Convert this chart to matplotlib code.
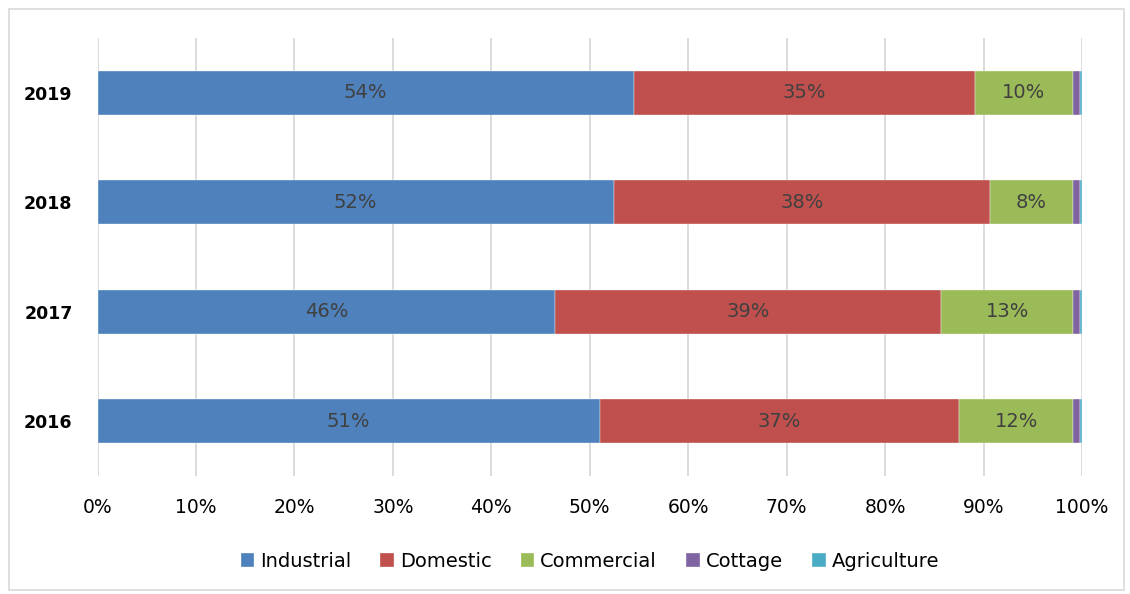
import numpy as np
import matplotlib
matplotlib.use("Agg")
import matplotlib.pyplot as plt
from matplotlib.patches import Rectangle

# consumption share by sector, per year (percent)
years = ["2016", "2017", "2018", "2019"]
industrial = [51.0, 46.49, 52.45, 54.49]
domestic = [36.55, 39.2, 38.2, 34.6]
commercial = [11.55, 13.41, 8.45, 10.01]
cottage = [0.7, 0.7, 0.7, 0.7]
agriculture = [0.2, 0.2, 0.2, 0.2]

sectors = ["Industrial", "Domestic", "Commercial", "Cottage", "Agriculture"]
colors = ["#4F81BD", "#C0504D", "#9BBB59", "#8064A2", "#4BACC6"]
labelled = ["Industrial", "Domestic", "Commercial"]

plt.rcParams['font.family'] = ['DejaVu Sans']

fig = plt.figure(figsize=(11.3, 5.94), dpi=100)
ax = fig.add_axes([0.0863, 0.1987, 0.8712, 0.7373])

# light frame round the whole chart
fig.patches.append(Rectangle((0.008, 0.007), 0.987, 0.978, transform=fig.transFigure,
                             fill=False, edgecolor="#d9d9d9", linewidth=1.2))

y = np.arange(len(years))
left = np.zeros(len(years))
for name, vals, col in zip(sectors, [industrial, domestic, commercial, cottage, agriculture], colors):
    vals = np.array(vals)
    ax.barh(y, vals, left=left, height=0.4, color=col, edgecolor="white",
            linewidth=0.25, label=name, zorder=3)
    if name in labelled:
        for yi, l, v in zip(y, left, vals):
            ax.text(l + v / 2, yi, f"{v:.0f}%", ha="center", va="center",
                    fontsize=14, color="#404040", zorder=4)
    left += vals

ax.set_xlim(0, 100)
ax.set_ylim(-0.5, len(years) - 0.5)
ax.set_xticks(np.arange(0, 101, 10))
ax.set_xticklabels([f"{t}%" for t in range(0, 101, 10)], fontsize=13.5)
ax.set_yticks(y)
ax.set_yticklabels(years, fontsize=12.5, fontweight="bold")
ax.tick_params(axis="x", length=0, pad=16)
ax.tick_params(axis="y", length=0, pad=18)
ax.grid(axis="x", color="#d9d9d9", linewidth=1.3, zorder=0)
for s in ax.spines.values():
    s.set_visible(False)

ax.legend(loc="center", bbox_to_anchor=(0.5, -0.195), ncol=5, frameon=False,
          fontsize=14, handlelength=0.7, handleheight=0.7, handletextpad=0.3,
          columnspacing=1.5)

fig.savefig("out.png", dpi=100)
